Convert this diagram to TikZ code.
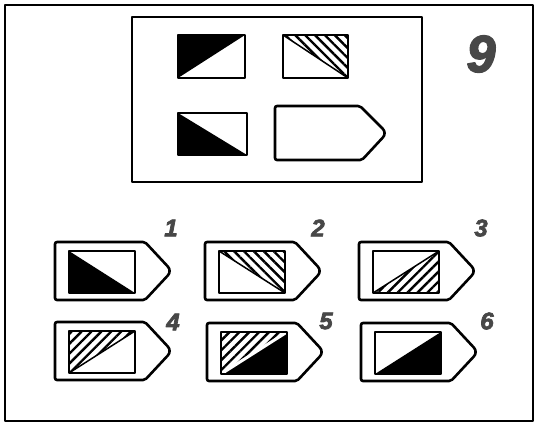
\documentclass[tikz,border=0pt]{standalone}
\usepackage{fontspec}
\setmainfont{Liberation Sans}[BoldItalicFeatures={FakeBold=3}]
\usetikzlibrary{patterns.meta}

\definecolor{cislogray}{HTML}{474747}

\begin{document}
\begin{tikzpicture}[x=1pt, y=-1pt, line join=round,
    ramec/.style={line width=2pt},
    obrys/.style={line width=2.6pt},
    tma/.style={fill=black},
    srafa/.style={pattern={Lines[angle=#1, distance=7pt, line width=2.4pt]}},
    cislo/.style={font=\bfseries\itshape\fontsize{24}{24}\selectfont, text=cislogray, inner sep=0pt}]

    \useasboundingbox (0,0) rectangle (535,423);

    % 1. Vnější rámeček
    \draw[ramec] (5,5) rectangle (533,421);

    % 2. Zadání (horní rámeček)
    \draw[ramec] (132,17) rectangle (422,182);

    \foreach \n/\x/\y/\w/\h in {A/178/35/67/43, B/283/35/65/43, C/178/113/69/42} {
        \coordinate (\n-tl) at (\x,\y);
        \coordinate (\n-tr) at (\x+\w,\y);
        \coordinate (\n-bl) at (\x,\y+\h);
        \coordinate (\n-br) at (\x+\w,\y+\h);
    }
    \fill[tma] (A-tl) -- (A-tr) -- (A-bl) -- cycle;
    \path[srafa=-45] (B-tl) -- (B-tr) -- (B-br) -- cycle;
    \draw[line width=1.5pt] (B-tl) -- (B-br);
    \fill[tma] (C-tl) -- (C-bl) -- (C-br) -- cycle;
    \foreach \n in {A,B,C} \draw[obrys] (\n-tl) rectangle (\n-br);

    % prázdný štítek
    \draw[obrys, rounded corners=2pt] (275,106) -- (360,106) [rounded corners=6pt] -- (387,133)
        [rounded corners=2pt] -- (362,160) -- (275,160) -- cycle;

    \node[cislo, font=\bfseries\itshape\fontsize{52}{52}\selectfont] (devet) at (481,54) {9};

    % 3. Možnosti odpovědí
    \foreach \n/\x/\y/\lx/\ly in {1/55/242/171/228, 2/205/242/318/228, 3/359/242/481/228,
                                  4/55/322/173/322, 5/207/323/326/321, 6/361/323/487/321} {
        \draw[obrys, rounded corners=2pt] (\x,\y) -- (\x+90,\y) [rounded corners=6pt] -- (\x+117,\y+29)
            [rounded corners=2pt] -- (\x+90,\y+58) -- (\x,\y+58) -- cycle;
        \coordinate (o\n-tl) at (\x+14,\y+9);
        \coordinate (o\n-tr) at (\x+80,\y+9);
        \coordinate (o\n-bl) at (\x+14,\y+51);
        \coordinate (o\n-br) at (\x+80,\y+51);
        \node[cislo] (c\n) at (\lx,\ly) {\n};
    }

    % výplně
    \fill[tma] (o1-tl) -- (o1-bl) -- (o1-br) -- cycle;
    \path[srafa=-45] (o2-tl) -- (o2-tr) -- (o2-br) -- cycle;
    \draw[line width=1.5pt] (o2-tl) -- (o2-br);
    \path[srafa=45] (o3-bl) -- (o3-tr) -- (o3-br) -- cycle;
    \draw[line width=1.5pt] (o3-bl) -- (o3-tr);
    \path[srafa=45] (o4-tl) -- (o4-tr) -- (o4-bl) -- cycle;
    \draw[line width=1.5pt] (o4-bl) -- (o4-tr);
    \path[srafa=45] (o5-tl) -- (o5-tr) -- (o5-bl) -- cycle;
    \fill[tma] (o5-bl) -- (o5-tr) -- (o5-br) -- cycle;
    \draw[white, line width=3pt] (o5-bl) -- (o5-tr);
    \fill[tma] (o6-bl) -- (o6-tr) -- (o6-br) -- cycle;
    \foreach \n in {1,...,6} \draw[obrys] (o\n-tl) rectangle (o\n-br);

\end{tikzpicture}
\end{document}
